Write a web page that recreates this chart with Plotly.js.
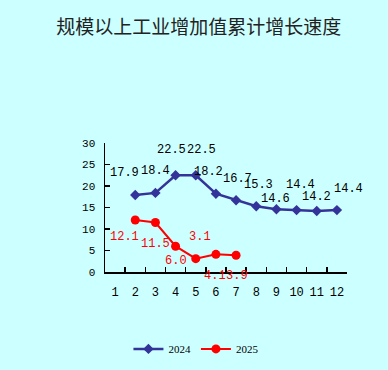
<!DOCTYPE html>
<html>
<head>
<meta charset="utf-8">
<script src="https://cdn.plot.ly/plotly-3.0.1.min.js"></script>
<style>
html,body{margin:0;padding:0;background:#CCFFFF;}
#chart{width:388px;height:370px;}
</style>
</head>
<body>
<div id="chart"></div>
<script>
// ---- data ----
const months = ['1','2','3','4','5','6','7','8','9','10','11','12'];
const months2024 = ['2','3','4','5','6','7','8','9','10','11','12'];
const values2024 = [17.9, 18.4, 22.5, 22.5, 18.2, 16.7, 15.3, 14.6, 14.4, 14.2, 14.4];
const months2025 = ['2','3','4','5','6','7'];
const values2025 = [12.1, 11.5, 6.0, 3.1, 4.1, 3.9];
const seriesNames = ['2024', '2025'];
const titleText = '规模以上工业增加值累计增长速度';

// ---- label placement (pixel offsets from each point) ----
const shift2024 = [[-11,22],[0,22],[-4,25],[6,25],[-7,22],[1.5,21],[2,21],[-1,10],[4,25],[0,14],[12,21]];
const shift2025 = [[-11,-17],[0,-21],[0,-15],[4,22],[-0.5,-22],[0.5,-21]];

const labelFont = {family: 'Liberation Mono, DejaVu Sans Mono, monospace', size: 12};
const annotations = [];
months2024.forEach((m, i) => {
  annotations.push({x: months.indexOf(m), y: values2024[i], xref: 'x', yref: 'y', text: values2024[i].toFixed(1),
    showarrow: false, xshift: shift2024[i][0], yshift: shift2024[i][1],
    font: Object.assign({color: '#000000'}, labelFont)});
});
months2025.forEach((m, i) => {
  annotations.push({x: months.indexOf(m), y: values2025[i], xref: 'x', yref: 'y', text: values2025[i].toFixed(1),
    showarrow: false, xshift: shift2025[i][0], yshift: shift2025[i][1],
    font: Object.assign({color: '#FF0000'}, labelFont)});
});

const traces = [
  {x: months2024, y: values2024, name: seriesNames[0], type: 'scatter', mode: 'lines+markers',
   line: {color: '#333399', width: 2.5}, marker: {symbol: 'diamond', size: 8, color: '#333399'}},
  {x: months2025, y: values2025, name: seriesNames[1], type: 'scatter', mode: 'lines+markers',
   line: {color: '#FF0000', width: 2}, marker: {symbol: 'circle', size: 9, color: '#FF0000'}}
];

const layout = {
  width: 388, height: 370,
  paper_bgcolor: '#CCFFFF', plot_bgcolor: '#CCFFFF',
  margin: {l: 105, r: 41, t: 143, b: 98, pad: 0},
  title: {text: titleText, x: 0.512, xanchor: 'center', y: 0.926, yanchor: 'middle', yref: 'container',
    font: {family: 'Noto Sans CJK SC', size: 19, color: '#222222'}},
  xaxis: {type: 'category', categoryorder: 'array', categoryarray: months,
    range: [-0.5, 11.5], autorange: false, tickmode: 'array', tickvals: months, ticktext: months,
    tickangle: 0,
    tickson: 'boundaries', ticks: 'inside', ticklen: 5, tickwidth: 1.5, tickcolor: '#000',
    showline: true, linecolor: '#000', linewidth: 1.5, showgrid: false, zeroline: false,
    ticklabelstandoff: 8,
    tickfont: {family: 'Liberation Mono, DejaVu Sans Mono, monospace', size: 12, color: '#000'}},
  yaxis: {range: [0, 30], dtick: 5, tick0: 0, ticks: 'inside', ticklen: 5, tickwidth: 1.5, tickcolor: '#000',
    showline: true, linecolor: '#000', linewidth: 1.5, showgrid: false, zeroline: false,
    ticklabelstandoff: 6,
    tickfont: {family: 'Liberation Mono, DejaVu Sans Mono, monospace', size: 11, color: '#000'}},
  showlegend: true,
  legend: {orientation: 'h', xref: 'container', yref: 'container', x: 0.505, xanchor: 'center',
    y: 0.057, yanchor: 'middle', bgcolor: 'rgba(0,0,0,0)',
    font: {family: 'Liberation Serif, serif', size: 11, color: '#000'}},
  annotations: annotations
};

Plotly.newPlot('chart', traces, layout, {staticPlot: true, displayModeBar: false});
</script>
</body>
</html>
